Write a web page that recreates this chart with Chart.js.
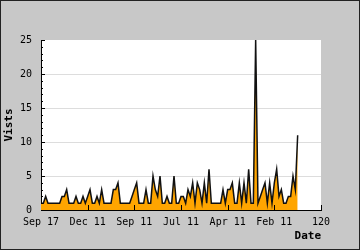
<!DOCTYPE html>
<html>
<head>
<meta charset="utf-8">
<script src="https://cdn.jsdelivr.net/npm/chart.js@4/dist/chart.umd.min.js"></script>
<style>
  html, body { margin: 0; padding: 0; background: #c8c8c8; }
  #wrap { width: 360px; height: 250px; }
</style>
</head>
<body>
<div id="wrap"><canvas id="chart" width="360" height="250"></canvas></div>
<script>
// ── Data ───────────────────────────────────────────────────────────────────
const VISITS = [
  1, 1, 2, 1, 1, 1, 1, 1, 1, 2,
  2, 3, 1, 1, 1, 2, 1, 1, 2, 1,
  2, 3, 1, 1, 2, 1, 3, 1, 1, 1,
  1, 3, 3, 4, 1, 1, 1, 1, 1, 2,
  3, 4, 1, 1, 1, 3, 1, 1, 5, 3,
  2, 5, 1, 1, 2, 1, 1, 5, 1, 1,
  2, 2, 1, 3, 2, 4, 1, 4, 3, 1,
  4, 1, 6, 1, 1, 1, 1, 1, 3, 1,
  3, 3, 4, 1, 1, 4, 1, 4, 1, 6,
  1, 1, 25, 1, 2, 3, 4, 1, 4, 1,
  4, 6, 2, 3, 1, 1, 2, 2, 5, 3,
  11
];
const X_TICK_LABELS = ['Sep 17', 'Dec 11', 'Sep 11', 'Jul 11', 'Apr 11', 'Feb 11', '120'];
const Y_MAX = 25;
const X_MAX = 120;

const MONO = '"DejaVu Sans Mono", monospace';

// ── Plugins ────────────────────────────────────────────────────────────────
const frame = {
  id: 'frame',
  beforeDraw(chart) {
    const { ctx, chartArea: a } = chart;
    ctx.save();
    ctx.fillStyle = '#c8c8c8';
    ctx.fillRect(0, 0, chart.width, chart.height);
    ctx.fillStyle = '#ffffff';
    ctx.fillRect(a.left, a.top, a.right - a.left, a.bottom - a.top);
    ctx.restore();
  },
  afterDraw(chart) {
    const { ctx, chartArea: a, scales } = chart;
    ctx.save();
    ctx.strokeStyle = '#000';
    ctx.lineWidth = 1;
    ctx.beginPath();
    // inward y ticks, minor every 1, major every 5
    for (let v = 0; v <= Y_MAX; v++) {
      const y = Math.round(scales.y.getPixelForValue(v)) + 0.5;
      const len = v % 5 === 0 ? 4 : 2;
      ctx.moveTo(a.left, y);
      ctx.lineTo(a.left + len, y);
    }
    // inward x ticks
    for (let v = 20; v <= X_MAX; v += 20) {
      const x = Math.round(scales.x.getPixelForValue(v)) + 0.5;
      ctx.moveTo(x, a.bottom);
      ctx.lineTo(x, a.bottom - 5);
    }
    ctx.stroke();
    // outer frame
    ctx.strokeStyle = '#222';
    ctx.strokeRect(0.5, 0.5, chart.width - 1, chart.height - 1);
    ctx.restore();
  }
};

// ── Chart ──────────────────────────────────────────────────────────────────
new Chart(document.getElementById('chart'), {
  type: 'line',
  data: {
    datasets: [{
      label: 'Vists',
      data: VISITS.map((v, i) => ({ x: i, y: v })),
      borderColor: '#111',
      borderWidth: 1.5,
      backgroundColor: '#ffa500',
      fill: 'origin',
      tension: 0,
      pointRadius: 0,
    }]
  },
  options: {
    responsive: false,
    animation: false,
    layout: { padding: { top: 40, right: 39, left: 0, bottom: 0 } },
    plugins: {
      legend: { display: false },
      tooltip: { enabled: false }
    },
    scales: {
      x: {
        type: 'linear',
        min: 0,
        max: X_MAX,
        afterFit: s => { s.height = 40; },
        afterBuildTicks: s => { s.ticks = X_TICK_LABELS.map((_, i) => ({ value: i * 20 })); },
        ticks: {
          autoSkip: false,
          maxRotation: 0,
          padding: 6,
          color: '#000',
          font: { family: MONO, size: 10 },
          callback: (v) => X_TICK_LABELS[Math.round(v / 20)]
        },
        grid: { display: false, drawTicks: false },
        border: { display: true, color: '#000', width: 1 },
        title: {
          display: true,
          text: 'Date',
          align: 'end',
          color: '#000',
          font: { family: MONO, size: 11, weight: 'bold' },
          padding: { top: 0, bottom: 7 }
        }
      },
      y: {
        min: 0,
        max: Y_MAX,
        afterFit: s => { s.width = 41; },
        ticks: {
          stepSize: 5,
          padding: 9,
          color: '#000',
          font: { family: MONO, size: 10 }
        },
        grid: {
          drawTicks: false,
          color: ctx => (ctx.tick && ctx.tick.value > 0 && ctx.tick.value < Y_MAX) ? '#dddddd' : 'rgba(0,0,0,0)',
          lineWidth: 1
        },
        border: { display: true, color: '#000', width: 1 },
        title: {
          display: true,
          text: 'Vists',
          color: '#000',
          font: { family: MONO, size: 11, weight: 'bold' },
          padding: { top: 3, bottom: 0 }
        }
      }
    }
  },
  plugins: [frame]
});
</script>
</body>
</html>
